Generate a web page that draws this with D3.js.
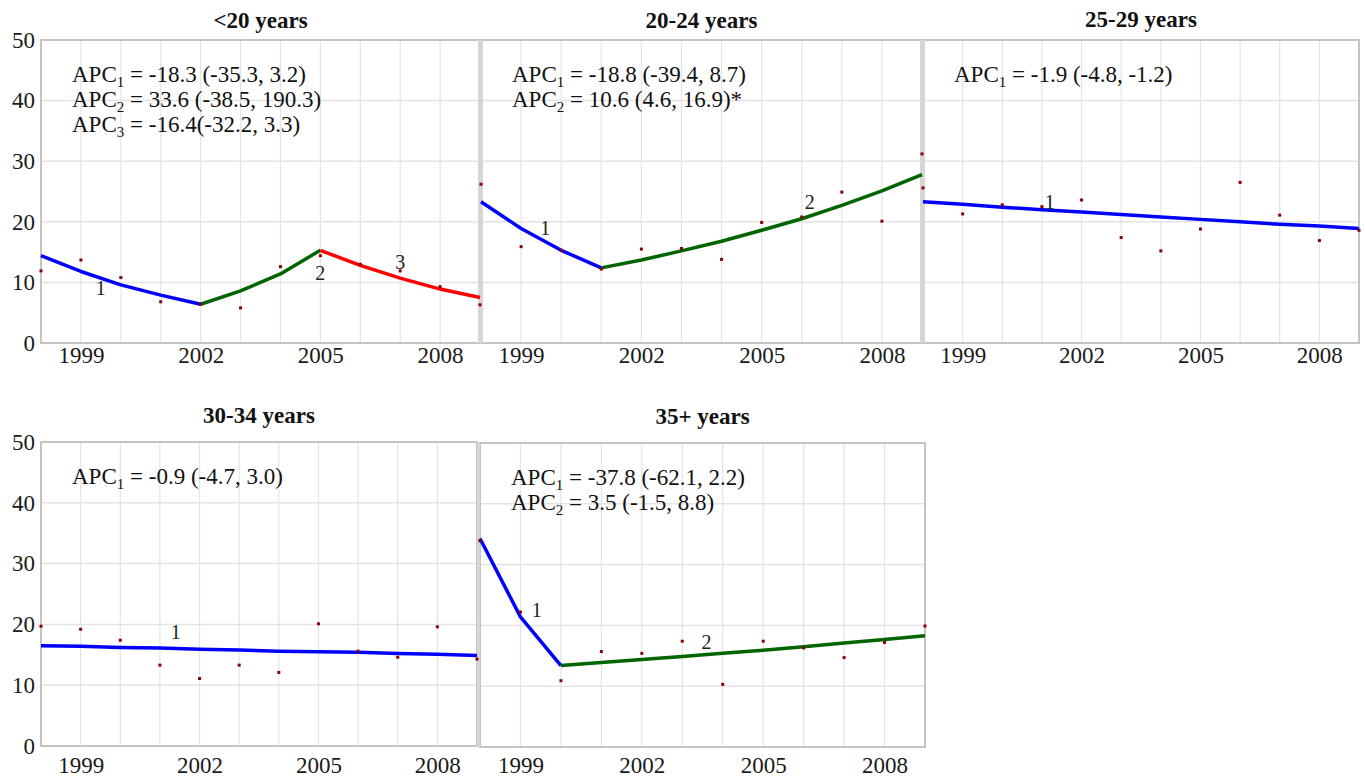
<!DOCTYPE html>
<html>
<head>
<meta charset="utf-8">
<script src="https://cdn.jsdelivr.net/npm/d3@7"></script>
<style>
  body { margin: 0; background: #fff; }
  svg { display: block; }
  svg text { font-family: "Liberation Serif", "Times New Roman", "DejaVu Serif", serif; }
</style>
</head>
<body>
<svg id="chart" width="1365" height="780"></svg>
<script>
// observed rates per year, one array per age group
var years = [1998, 1999, 2000, 2001, 2002, 2003, 2004, 2005, 2006, 2007, 2008, 2009];
var yTicks = [0, 10, 20, 30, 40, 50];
var xTicks = [1999, 2002, 2005, 2008];
var titles = ['<20 years', '20-24 years', '25-29 years', '30-34 years', '35+ years'];

var obsUnder20 = [11.9, 13.7, 10.8, 6.8, 6.4, 5.8, 12.6, 14.4, 13.0, 11.9, 9.3, 6.3];
var obs20to24 = [26.2, 15.9, 15.3, 12.2, 15.5, 15.6, 13.8, 19.9, 20.8, 24.9, 20.1, 31.2];
var obs25to29 = [25.6, 21.3, 22.8, 22.5, 23.6, 17.4, 15.2, 18.8, 26.5, 21.1, 16.9, 18.6];
var obs30to34 = [19.7, 19.2, 17.4, 13.3, 11.1, 13.3, 12.1, 20.1, 15.6, 14.6, 19.6, 14.3];
var obs35plus = [33.9, 22.2, 10.9, 15.7, 15.4, 17.4, 10.3, 17.4, 16.3, 14.7, 17.2, 19.9];

// joinpoint segments: first year of each segment and the modelled values
var segStartsUnder20 = [1998, 2002, 2005];
var fitUnder20 = [[14.4, 11.8, 9.6, 7.9, 6.4], [6.4, 8.6, 11.4, 15.3], [15.3, 12.8, 10.7, 8.9, 7.5]];
var segStarts20to24 = [1998, 2001];
var fit20to24 = [[23.3, 18.9, 15.3, 12.4], [12.4, 13.7, 15.2, 16.8, 18.6, 20.5, 22.7, 25.1, 27.8]];
var segStarts25to29 = [1998];
var fit25to29 = [[23.3, 22.9, 22.4, 22.0, 21.6, 21.2, 20.8, 20.4, 20.0, 19.6, 19.3, 18.9]];
var segStarts30to34 = [1998];
var fit30to34 = [[16.5, 16.4, 16.2, 16.1, 15.9, 15.8, 15.6, 15.5, 15.4, 15.2, 15.1, 14.9]];
var segStarts35plus = [1998, 2000];
var fit35plus = [[34.3, 21.4, 13.4], [13.4, 13.9, 14.4, 14.9, 15.4, 15.9, 16.5, 17.1, 17.7, 18.3]];

// segment number labels: [year, rate, label]
var segLabelsUnder20 = [[1999.5, 9.1, '1'], [2005, 11.6, '2'], [2007, 13.4, '3']];
var segLabels20to24 = [[1999.6, 19.0, '1'], [2006.2, 23.3, '2']];
var segLabels25to29 = [[2001.2, 23.3, '1']];
var segLabels30to34 = [[2001.4, 18.8, '1']];
var segLabels35plus = [[1999.4, 22.5, '1'], [2003.6, 17.2, '2']];

// annual percent change text: [subscript, rest]
var apcUnder20 = [['1', ' = -18.3 (-35.3, 3.2)'], ['2', ' = 33.6 (-38.5, 190.3)'], ['3', ' = -16.4(-32.2, 3.3)']];
var apc20to24 = [['1', ' = -18.8 (-39.4, 8.7)'], ['2', ' = 10.6 (4.6, 16.9)*']];
var apc25to29 = [['1', ' = -1.9 (-4.8, -1.2)']];
var apc30to34 = [['1', ' = -0.9 (-4.7, 3.0)']];
var apc35plus = [['1', ' = -37.8 (-62.1, 2.2)'], ['2', ' = 3.5 (-1.5, 8.8)']];

var segColors = ['#0000ff', '#006400', '#ff0000'];
var serif = '"Liberation Serif", "Times New Roman", serif';

var panels = [
  { title: titles[0], obs: obsUnder20, starts: segStartsUnder20, fit: fitUnder20, labels: segLabelsUnder20, apc: apcUnder20,
    x0: 41, x1: 480, y0: 40, y1: 343, yAxis: true, xPad: 4, titleY: 28 },
  { title: titles[1], obs: obs20to24, starts: segStarts20to24, fit: fit20to24, labels: segLabels20to24, apc: apc20to24,
    x0: 481, x1: 922, y0: 40, y1: 343, yAxis: false, xPad: 4, titleY: 28 },
  { title: titles[2], obs: obs25to29, starts: segStarts25to29, fit: fit25to29, labels: segLabels25to29, apc: apc25to29,
    x0: 923, x1: 1359, y0: 40, y1: 343, yAxis: false, xPad: 4, titleY: 27 },
  { title: titles[3], obs: obs30to34, starts: segStarts30to34, fit: fit30to34, labels: segLabels30to34, apc: apc30to34,
    x0: 41, x1: 477, y0: 442, y1: 746, yAxis: true, xPad: 11, titleY: 423 },
  { title: titles[4], obs: obs35plus, starts: segStarts35plus, fit: fit35plus, labels: segLabels35plus, apc: apc35plus,
    x0: 480, x1: 925, y0: 443, y1: 747, yAxis: false, xPad: 10, titleY: 424 }
];

var svg = d3.select('#chart');

panels.forEach(function(p) {
  p.x = d3.scaleLinear().domain([1998, 2009]).range([p.x0, p.x1]);
  p.y = d3.scaleLinear().domain([0, 50]).range([p.y1, p.y0]);
});

// pass 1: frames, grids, axes, titles
panels.forEach(function(p) {
  var g = svg.append('g').attr('class', 'panel-bg');

  g.selectAll('line.vgrid')
    .data(years)
    .enter().append('line')
    .attr('class', 'vgrid')
    .attr('x1', function(d) { return p.x(d); })
    .attr('x2', function(d) { return p.x(d); })
    .attr('y1', p.y0)
    .attr('y2', p.y1)
    .attr('stroke', '#e4e4e4')
    .attr('stroke-width', 1.2);

  g.selectAll('line.hgrid')
    .data(yTicks)
    .enter().append('line')
    .attr('class', 'hgrid')
    .attr('x1', p.x0)
    .attr('x2', p.x1)
    .attr('y1', function(d) { return p.y(d); })
    .attr('y2', function(d) { return p.y(d); })
    .attr('stroke', '#e4e4e4')
    .attr('stroke-width', 1.5);

  g.append('rect')
    .attr('x', p.x0)
    .attr('y', p.y0)
    .attr('width', p.x1 - p.x0)
    .attr('height', p.y1 - p.y0)
    .attr('fill', 'none')
    .attr('stroke', '#c4c4c4')
    .attr('stroke-width', 2);

  var xAxis = g.append('g')
    .attr('transform', 'translate(0,' + p.y1 + ')')
    .call(d3.axisBottom(p.x).tickValues(xTicks).tickFormat(d3.format('d')).tickSize(0).tickPadding(p.xPad));
  xAxis.attr('font-family', serif);
  xAxis.select('.domain').remove();
  xAxis.selectAll('text')
    .attr('font-size', 23)
    .attr('fill', '#1a1a1a');

  if (p.yAxis) {
    var yAxis = g.append('g')
      .attr('transform', 'translate(' + (p.x0 - 6) + ',0)')
      .call(d3.axisLeft(p.y).tickValues(yTicks).tickSize(0).tickPadding(0));
    yAxis.attr('font-family', serif);
    yAxis.select('.domain').remove();
    yAxis.selectAll('text')
      .attr('font-size', 23)
      .attr('fill', '#1a1a1a');
  }

  g.append('text')
    .attr('x', (p.x0 + p.x1) / 2)
    .attr('y', p.titleY)
    .attr('text-anchor', 'middle')
    .attr('font-size', 23)
    .attr('font-weight', 'bold')
    .attr('fill', '#111')
    .text(p.title);
});

// grey bars where neighbouring panels meet
[[478, 40, 343, 5], [920, 40, 343, 5], [477, 442, 747, 3]].forEach(function(s) {
  svg.append('rect')
    .attr('x', s[0])
    .attr('y', s[1])
    .attr('width', s[3])
    .attr('height', s[2] - s[1])
    .attr('fill', '#d6d6d6');
});

// pass 2: fitted segments, observed points, labels
panels.forEach(function(p) {
  var g = svg.append('g').attr('class', 'panel-marks');

  var line = d3.line()
    .x(function(d) { return p.x(d[0]); })
    .y(function(d) { return p.y(d[1]); });

  p.fit.forEach(function(vals, i) {
    var pts = vals.map(function(v, k) { return [p.starts[i] + k, v]; });
    g.append('path')
      .datum(pts)
      .attr('d', line)
      .attr('fill', 'none')
      .attr('stroke', segColors[i])
      .attr('stroke-width', 3.5)
      .attr('stroke-linejoin', 'round');
  });

  g.selectAll('rect.pt')
    .data(p.obs)
    .enter().append('rect')
    .attr('class', 'pt')
    .attr('x', function(d, i) { return p.x(years[i]) - 1.5; })
    .attr('y', function(d) { return p.y(d) - 1.5; })
    .attr('width', 3)
    .attr('height', 3)
    .attr('fill', '#8b0000');

  g.selectAll('text.seg')
    .data(p.labels)
    .enter().append('text')
    .attr('class', 'seg')
    .attr('x', function(d) { return p.x(d[0]); })
    .attr('y', function(d) { return p.y(d[1]); })
    .attr('dy', '0.35em')
    .attr('text-anchor', 'middle')
    .attr('font-size', 20)
    .attr('fill', '#222')
    .text(function(d) { return d[2]; });

  var apc = g.selectAll('text.apc')
    .data(p.apc)
    .enter().append('text')
    .attr('class', 'apc')
    .attr('x', p.x0 + 31)
    .attr('y', function(d, i) { return p.y0 + 42 + i * 25; })
    .attr('font-size', 23)
    .attr('fill', '#111');
  apc.append('tspan').text('APC');
  apc.append('tspan')
    .attr('font-size', 15)
    .attr('dy', 5)
    .text(function(d) { return d[0]; });
  apc.append('tspan')
    .attr('dy', -5)
    .text(function(d) { return d[1]; });
});
</script>
</body>
</html>
